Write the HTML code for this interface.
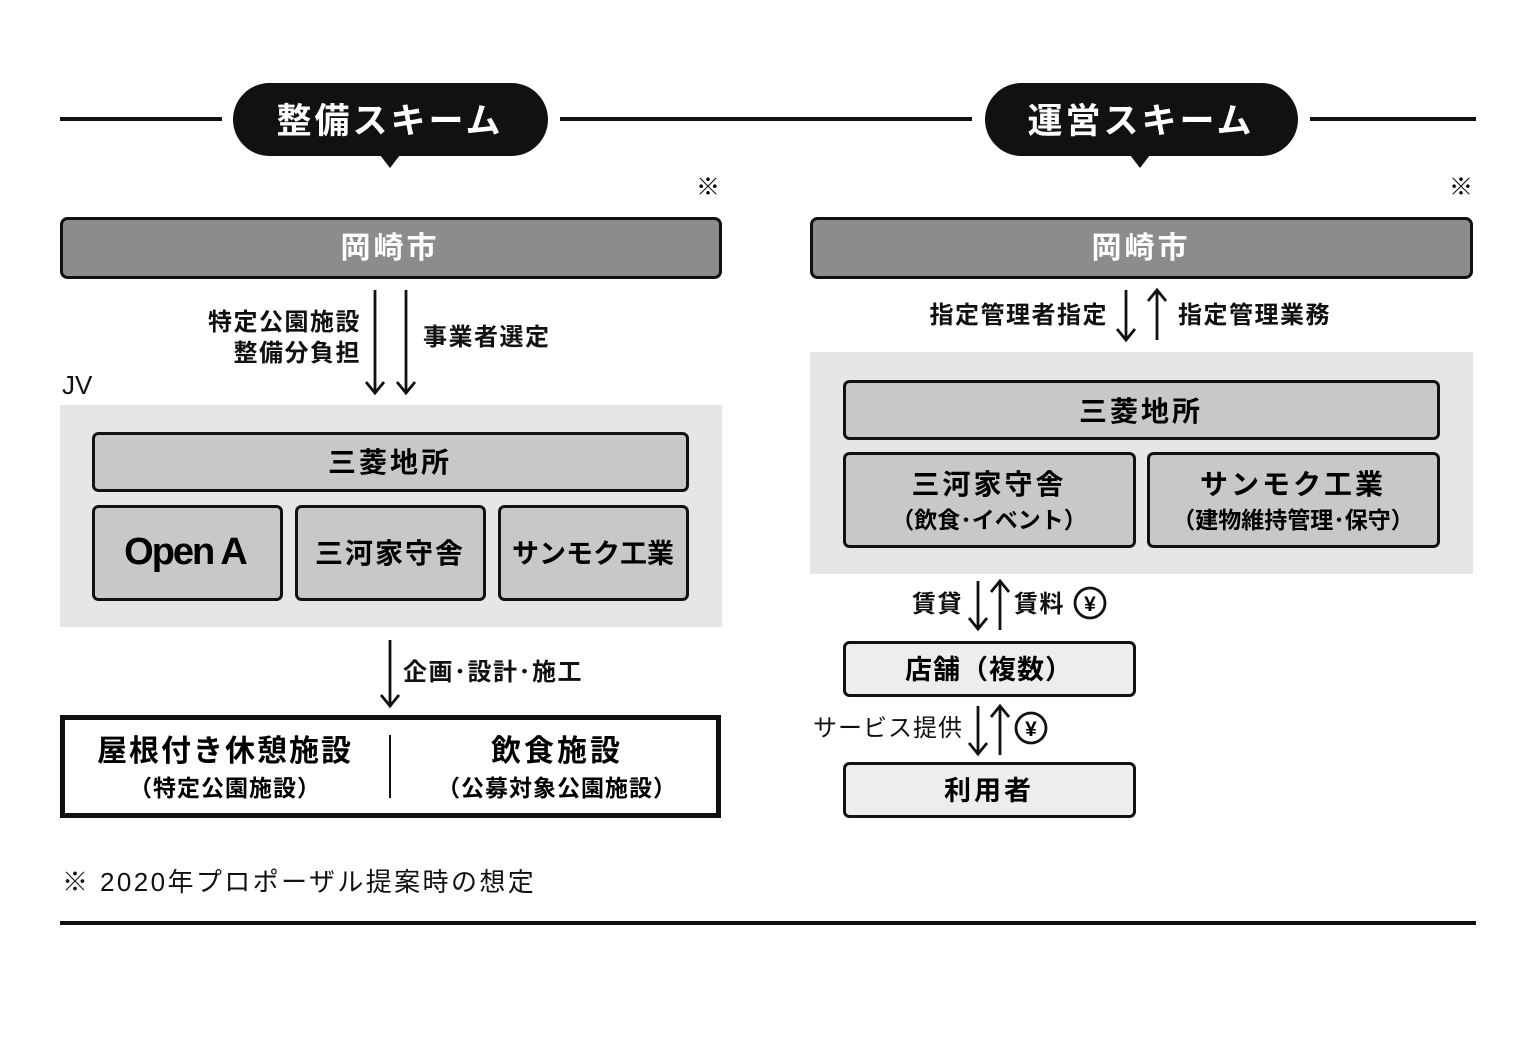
<!DOCTYPE html>
<html><head><meta charset="utf-8"><style>
html,body{margin:0;padding:0;background:#fff}
svg text{font-family:"Liberation Sans","Noto Sans CJK JP",sans-serif}
</style></head><body>
<svg width="1536" height="1036" viewBox="0 0 1536 1036" xmlns="http://www.w3.org/2000/svg">
<g stroke="#111" stroke-width="4">
<line x1="60" y1="119" x2="222" y2="119"/>
<line x1="560" y1="119" x2="972" y2="119"/>
<line x1="1310" y1="119" x2="1476" y2="119"/>
<line x1="60" y1="923" x2="1476" y2="923"/>
</g>
<rect x="233" y="83" width="315" height="73" rx="36.5" fill="#111"/>
<path d="M380,155 L390,168 L400,155Z" fill="#111"/>
<text x="390" y="133" font-size="35" font-weight="bold" fill="#fff" text-anchor="middle" letter-spacing="3">整備スキーム</text>
<rect x="985" y="83" width="313" height="73" rx="36.5" fill="#111"/>
<path d="M1130,155 L1140,168 L1150,155Z" fill="#111"/>
<text x="1141" y="133" font-size="35" font-weight="bold" fill="#fff" text-anchor="middle" letter-spacing="3">運営スキーム</text>
<text x="708" y="195" font-size="24" text-anchor="middle">※</text>
<text x="1461" y="195" font-size="24" text-anchor="middle">※</text>

<rect x="61.5" y="218.5" width="659" height="59" rx="6" fill="#8c8c8c" stroke="#111" stroke-width="3"/>
<text x="390" y="258" font-size="30" font-weight="bold" fill="#fff" text-anchor="middle" letter-spacing="3">岡崎市</text>
<rect x="811.5" y="218.5" width="660" height="59" rx="6" fill="#8c8c8c" stroke="#111" stroke-width="3"/>
<text x="1141" y="258" font-size="30" font-weight="bold" fill="#fff" text-anchor="middle" letter-spacing="3">岡崎市</text>

<g stroke="#111" stroke-width="2.8" fill="none" stroke-linejoin="miter">
<path d="M375,290 V393 M366,382 L375,393 L384,382"/>
<path d="M406,290 V393 M397,382 L406,393 L415,382"/>
<path d="M390,640 V706 M381,695 L390,706 L399,695"/>
<path d="M1126,290 V340 M1117,329 L1126,340 L1135,329"/>
<path d="M978,581 V629 M969,618 L978,629 L987,618"/>
<path d="M978,706 V754 M969,743 L978,754 L987,743"/>
<path d="M1157,290 V340 M1148,301 L1157,290 L1166,301"/>
<path d="M1000,581 V630 M991,592 L1000,581 L1009,592"/>
<path d="M1000,706 V755 M991,717 L1000,706 L1009,717"/>
</g>

<g font-size="24" font-weight="bold" fill="#111" letter-spacing="1.5">
<text x="361" y="330" text-anchor="end">特定公園施設</text>
<text x="361" y="361" text-anchor="end">整備分負担</text>
<text x="423" y="345">事業者選定</text>
<text x="403" y="680">企画･設計･施工</text>
<text x="1108" y="323" text-anchor="end">指定管理者指定</text>
<text x="1178" y="323">指定管理業務</text>
<text x="963" y="612" text-anchor="end">賃貸</text>
<text x="1014" y="612">賃料</text>
</g>
<text x="963" y="736" font-size="24" text-anchor="end" fill="#111" letter-spacing="1">サービス提供</text>
<g fill="none" stroke="#111" stroke-width="2.8"><circle cx="1090" cy="603" r="15"/><circle cx="1031" cy="728" r="15"/></g>
<text x="1090" y="611" font-size="21" font-weight="bold" text-anchor="middle">¥</text>
<text x="1031" y="736" font-size="21" font-weight="bold" text-anchor="middle">¥</text>

<text x="62" y="394" font-size="26" fill="#111">JV</text>
<rect x="60" y="405" width="662" height="222" fill="#e6e6e6"/>
<g stroke="#111" stroke-width="3">
<rect x="93.5" y="433.5" width="594" height="57" rx="5" fill="#c8c8c8"/>
<rect x="93.5" y="506.5" width="188" height="93" rx="5" fill="#c8c8c8"/>
<rect x="296.5" y="506.5" width="188" height="93" rx="5" fill="#c8c8c8"/>
<rect x="499.5" y="506.5" width="188" height="93" rx="5" fill="#c8c8c8"/>
</g>
<text x="390" y="472" font-size="28" font-weight="bold" text-anchor="middle" letter-spacing="3">三菱地所</text>
<text x="185" y="564" font-size="38" font-weight="bold" text-anchor="middle" letter-spacing="-2">Open A</text>
<text x="390" y="563" font-size="28" font-weight="bold" text-anchor="middle" letter-spacing="2">三河家守舎</text>
<text x="593" y="563" font-size="27" font-weight="bold" text-anchor="middle" letter-spacing="0">サンモク工業</text>

<rect x="62.5" y="717.5" width="656" height="98" fill="#fff" stroke="#111" stroke-width="5"/>
<line x1="390" y1="735" x2="390" y2="798" stroke="#111" stroke-width="2"/>
<text x="225" y="761" font-size="30" font-weight="bold" text-anchor="middle" letter-spacing="2">屋根付き休憩施設</text>
<text x="225" y="796" font-size="23" font-weight="bold" text-anchor="middle" letter-spacing="1">（特定公園施設）</text>
<text x="557" y="761" font-size="30" font-weight="bold" text-anchor="middle" letter-spacing="3">飲食施設</text>
<text x="557" y="796" font-size="23" font-weight="bold" text-anchor="middle" letter-spacing="1">（公募対象公園施設）</text>

<rect x="810" y="352" width="663" height="222" fill="#e6e6e6"/>
<g stroke="#111" stroke-width="3">
<rect x="844.5" y="381.5" width="594" height="57" rx="5" fill="#c8c8c8"/>
<rect x="844.5" y="453.5" width="290" height="93" rx="5" fill="#c8c8c8"/>
<rect x="1148.5" y="453.5" width="290" height="93" rx="5" fill="#c8c8c8"/>
<rect x="844.5" y="642.5" width="290" height="53" rx="5" fill="#ededed"/>
<rect x="844.5" y="763.5" width="290" height="53" rx="5" fill="#ededed"/>
</g>
<text x="1141" y="421" font-size="28" font-weight="bold" text-anchor="middle" letter-spacing="3">三菱地所</text>
<text x="989" y="494" font-size="28" font-weight="bold" text-anchor="middle" letter-spacing="3">三河家守舎</text>
<text x="989" y="528" font-size="23" font-weight="bold" text-anchor="middle">（飲食･イベント）</text>
<text x="1293" y="494" font-size="28" font-weight="bold" text-anchor="middle" letter-spacing="3">サンモク工業</text>
<text x="1293" y="528" font-size="23" font-weight="bold" text-anchor="middle">（建物維持管理･保守）</text>
<text x="989" y="679" font-size="27" font-weight="bold" text-anchor="middle" letter-spacing="1">店舗（複数）</text>
<text x="989" y="800" font-size="27" font-weight="bold" text-anchor="middle" letter-spacing="3">利用者</text>

<text x="62" y="891" font-size="26" fill="#111" letter-spacing="2.4">※ 2020年プロポーザル提案時の想定</text>
</svg>
</body></html>
